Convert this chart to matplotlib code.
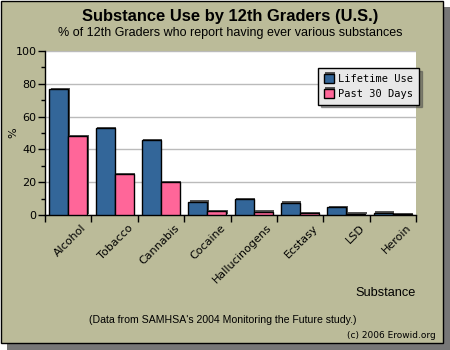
import numpy as np
import matplotlib
matplotlib.use("Agg")
import matplotlib.pyplot as plt
import matplotlib.patheffects as pe
from matplotlib.patches import Rectangle

substances = ["Alcohol", "Tobacco", "Cannabis", "Cocaine", "Hallucinogens",
              "Ecstasy", "LSD", "Heroin"]
lifetime = [76.8, 52.8, 45.7, 8.1, 9.7, 7.5, 4.6, 1.5]
past30 = [48.0, 25.0, 19.9, 2.3, 1.9, 1.2, 0.7, 0.5]
series_names = ["Lifetime Use", "Past 30 Days"]

BG = "#BBBB99"
BLUE = "#336699"
PINK = "#FF6699"

fig = plt.figure(figsize=(4.5, 3.5), dpi=100)
fig.patch.set_facecolor("white")

# frame with drop shadow
fig.patches.append(Rectangle((7 / 450, 0), 443 / 450, 343 / 350, transform=fig.transFigure,
                             facecolor="#777777", edgecolor="none", zorder=-3))
fig.patches.append(Rectangle((0.5 / 450, 7 / 350), 442 / 450, 342.5 / 350, transform=fig.transFigure,
                             facecolor=BG, edgecolor="black", lw=1, zorder=-2))

ax = fig.add_axes([45 / 450, 1 - 215 / 350, 371 / 450, 164 / 350])
ax.set_facecolor("white")

x = np.arange(len(substances))
w = 0.41
shadow = [pe.SimplePatchShadow(offset=(1.0, 1.0), shadow_rgbFace="#555555", alpha=1), pe.Normal()]
b1 = ax.bar(x - w / 2, lifetime, w, color=BLUE, edgecolor="black", lw=1, zorder=3,
            label=series_names[0])
b2 = ax.bar(x + w / 2, past30, w, color=PINK, edgecolor="black", lw=1, zorder=3,
            label=series_names[1])
for bar in list(b1) + list(b2):
    bar.set_path_effects(shadow)

ax.set_xlim(-0.5, len(substances) - 0.5)
ax.set_ylim(0, 100)
ax.set_yticks(range(0, 101, 20))
ax.set_yticks(range(0, 101, 10), minor=True)
ax.yaxis.grid(True, color="#BBBBBB", lw=1, zorder=0)
ax.set_axisbelow(True)
for s in ["top", "right"]:
    ax.spines[s].set_visible(False)
ax.spines["left"].set_linewidth(1)
ax.spines["bottom"].set_linewidth(1)

ax.set_xticks(np.arange(len(substances) + 1) - 0.5)
ax.set_xticklabels([])
ax.tick_params(axis="x", length=5, width=1)
ax.tick_params(axis="y", which="major", length=5, width=1, labelsize=8, pad=1)
ax.tick_params(axis="y", which="minor", length=3, width=1)

for i, name in enumerate(substances):
    ax.text(i + 0.28, -4.5, name, rotation=45, ha="right", va="top", rotation_mode="anchor",
            fontsize=8, family="DejaVu Sans")

ax.text(-0.084, 0.5, "%", transform=ax.transAxes, rotation=90, ha="center", va="center",
        fontsize=8)

leg = ax.legend(loc="upper right", bbox_to_anchor=(1.008, 0.896), borderaxespad=0,
                prop={"family": "DejaVu Sans Mono", "size": 7.5}, fancybox=False,
                shadow=True, framealpha=1, edgecolor="black", handlelength=1.0,
                handleheight=1.0, handletextpad=0.4, borderpad=0.55, labelspacing=0.45)
leg.get_frame().set_facecolor("#E8E8E8")
leg.get_frame().set_linewidth(1)

fig.text(230 / 450, 1 - 17 / 350, "Substance Use by 12th Graders (U.S.)", ha="center",
         va="center", fontsize=11.9, fontweight="bold", family="Liberation Sans")
fig.text(230 / 450, 1 - 33 / 350, "% of 12th Graders who report having ever various substances",
         ha="center", va="center", fontsize=9, family="Liberation Sans")
fig.text(416 / 450, 1 - 293 / 350, "Substance", ha="right", va="center", fontsize=9.2,
         family="Liberation Sans")
fig.text(223 / 450, 1 - 320 / 350, "(Data from SAMHSA's 2004 Monitoring the Future study.)",
         ha="center", va="center", fontsize=7.6, family="Liberation Sans")
fig.text(436 / 450, 1 - 336 / 350, "(c) 2006 Erowid.org", ha="right", va="center",
         fontsize=6.5, family="DejaVu Sans")

fig.savefig("out.png", dpi=100, facecolor=fig.get_facecolor())
